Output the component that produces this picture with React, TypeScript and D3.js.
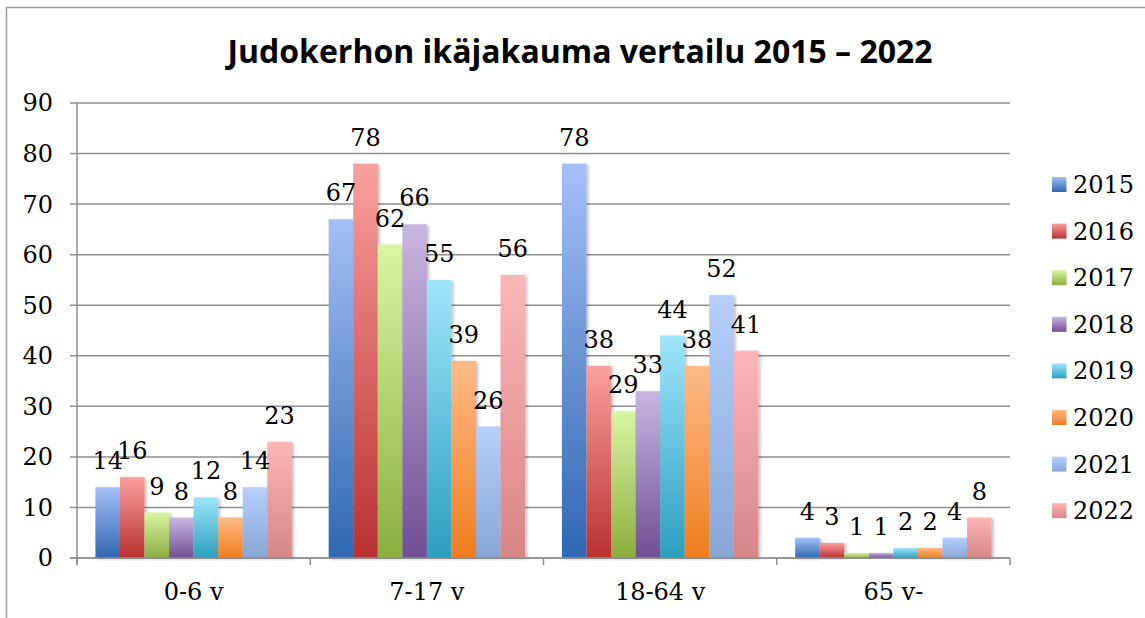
import React from 'react';
import * as d3 from 'd3';

const categories = ['0-6 v', '7-17 v', '18-64 v', '65 v-'];
const years = ['2015', '2016', '2017', '2018', '2019', '2020', '2021', '2022'];

const v2015 = [14, 67, 78, 4];
const v2016 = [16, 78, 38, 3];
const v2017 = [9, 62, 29, 1];
const v2018 = [8, 66, 33, 1];
const v2019 = [12, 55, 44, 2];
const v2020 = [8, 39, 38, 2];
const v2021 = [14, 26, 52, 4];
const v2022 = [23, 56, 41, 8];

const yTicks = [0, 10, 20, 30, 40, 50, 60, 70, 80, 90];

const seriesValues = [v2015, v2016, v2017, v2018, v2019, v2020, v2021, v2022];

// light top / dark bottom, excel style gradients
const gradColors = [
    ['#a4c0f6', '#2f67b2'],
    ['#f9a09e', '#b93131'],
    ['#d8f5a2', '#8bae3e'],
    ['#c8b6e2', '#704f93'],
    ['#9fe5fb', '#2b9fbf'],
    ['#fdba87', '#ef7d1d'],
    ['#b6cffc', '#88a6d4'],
    ['#fdb6b6', '#d78585'],
];

const W = 1145, H = 618;
const left = 77, right = 1010, top = 103, bottom = 558;
const serif = '"DejaVu Serif", serif';
const fs = 24;
const gridColor = '#8f8f8f';

export default function App() {
    const x0 = d3.scaleBand().domain(categories).range([left, right]).padding(0);
    const x1 = d3.scaleBand().domain(years).range([0, x0.bandwidth()])
        .paddingInner(0).paddingOuter(0.75);
    const y = d3.scaleLinear().domain([0, 90]).range([bottom, top]);

    const boundaries = categories.map(c => x0(c)).concat([right]);

    return (
        <svg width={W} height={H} style={{ position: 'absolute', left: 0, top: 0 }}>
            <defs>
                {gradColors.map((c, i) => (
                    <linearGradient key={i} id={'grad' + i} x1="0" y1="0" x2="0" y2="1">
                        <stop offset="0%" stopColor={c[0]} />
                        <stop offset="100%" stopColor={c[1]} />
                    </linearGradient>
                ))}
                <filter id="shadow" x="-20%" y="-5%" width="150%" height="115%">
                    <feDropShadow dx="2" dy="1" stdDeviation="1.5" floodColor="#000" floodOpacity="0.25" />
                </filter>
            </defs>
            <rect x={0} y={0} width={W} height={H} fill="#fff" />
            {/* outer frame */}
            <line x1={6.5} y1={7} x2={6.5} y2={H} stroke="#9a9a9a" strokeWidth={1.5} />
            <line x1={6} y1={7.5} x2={W} y2={7.5} stroke="#9a9a9a" strokeWidth={1.5} />

            <text x={580} y={63} textAnchor="middle" fontFamily='"Open Sans", sans-serif'
                fontWeight={700} fontSize={32} fill="#000">
                Judokerhon ikäjakauma vertailu 2015 – 2022
            </text>

            {/* gridlines + y ticks */}
            {yTicks.map(t => (
                <g key={t}>
                    <line x1={left - 7} x2={right} y1={y(t)} y2={y(t)} stroke={gridColor} strokeWidth={1.5} />
                    <text x={53} y={y(t)} dy="0.35em" textAnchor="end" fontFamily={serif}
                        fontSize={fs} fill="#000">{t}</text>
                </g>
            ))}
            <line x1={left} x2={left} y1={top} y2={bottom + 7} stroke={gridColor} strokeWidth={1.5} />
            {boundaries.map((bx, i) => (
                <line key={i} x1={bx} x2={bx} y1={bottom} y2={bottom + 7} stroke={gridColor} strokeWidth={1.5} />
            ))}

            {/* bars */}
            {categories.map((cat, ci) => (
                <g key={cat} transform={`translate(${x0(cat)},0)`}>
                    {years.map((yr, si) => {
                        const v = seriesValues[si][ci];
                        return (
                            <rect key={yr} x={x1(yr)} y={y(v)} width={x1.bandwidth()}
                                height={bottom - y(v)} fill={`url(#grad${si})`} filter="url(#shadow)" />
                        );
                    })}
                    {years.map((yr, si) => {
                        const v = seriesValues[si][ci];
                        return (
                            <text key={yr} x={x1(yr) + x1.bandwidth() / 2} y={y(v) - 18}
                                textAnchor="middle" fontFamily={serif} fontSize={fs} fill="#000">{v}</text>
                        );
                    })}
                    <text x={x0.bandwidth() / 2} y={600} textAnchor="middle" fontFamily={serif}
                        fontSize={fs} fill="#000">{cat}</text>
                </g>
            ))}
            {/* redraw baseline over shadows */}
            <line x1={left - 7} x2={right} y1={bottom} y2={bottom} stroke={gridColor} strokeWidth={1.5} />

            {/* legend */}
            {years.map((yr, i) => {
                const ly = 177 + i * 46.6;
                return (
                    <g key={yr}>
                        <rect x={1052} y={ly} width={14.5} height={15} fill={`url(#grad${i})`} />
                        <text x={1073} y={ly + 16} fontFamily={serif} fontSize={fs} fill="#000">{yr}</text>
                    </g>
                );
            })}
        </svg>
    );
}
